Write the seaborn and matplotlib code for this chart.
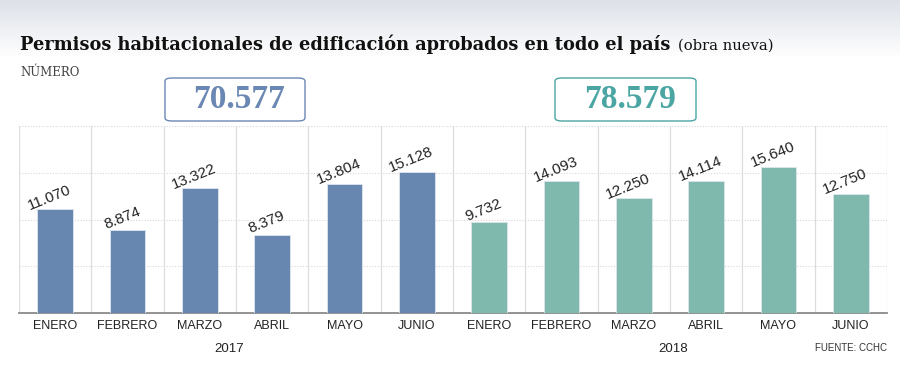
import matplotlib
matplotlib.use("Agg")
import matplotlib.pyplot as plt
import seaborn as sns
import numpy as np
import pandas as pd
from matplotlib.patches import FancyBboxPatch

# data
months = ["ENERO", "FEBRERO", "MARZO", "ABRIL", "MAYO", "JUNIO"]
years = ["2017", "2018"]
values_2017 = [11070, 8874, 13322, 8379, 13804, 15128]
values_2018 = [9732, 14093, 12250, 14114, 15640, 12750]
totals = ["70.577", "78.579"]

blue = "#6787b0"
green = "#7fb8ad"
total_colors = ["#6a88b3", "#4aa5a3"]
sans = ["Liberation Sans", "DejaVu Sans"]

df = pd.DataFrame({
    "slot": [f"{y}-{m}" for y in years for m in months],
    "mes": months * 2,
    "anio": [years[0]] * 6 + [years[1]] * 6,
    "valor": values_2017 + values_2018,
})

sns.set_theme(style="white")
plt.rcParams["font.family"] = ["DejaVu Sans"]

fig = plt.figure(figsize=(9, 3.86), dpi=100)

# grey gradient band behind the title
bg = fig.add_axes([0, 1 - 58 / 386, 1, 58 / 386], zorder=-5)
grad = np.linspace(0, 1, 100).reshape(-1, 1)
bg.imshow(grad, aspect="auto", cmap=matplotlib.colors.LinearSegmentedColormap.from_list(
    "g", ["#dde1e8", "#ffffff"]), extent=[0, 1, 0, 1])
bg.axis("off")

ax = fig.add_axes([19 / 900, 1 - 313 / 386, 868 / 900, 187 / 386])
sns.barplot(data=df, x="slot", y="valor", hue="anio", palette=[blue, green],
            dodge=False, width=0.49, legend=False, ax=ax, saturation=1,
            edgecolor="#dfe6ee", linewidth=0.6, zorder=3)

ax.set_xlim(-0.5, 11.5)
ax.set_ylim(0, 20000)
ax.set_yticks([5000, 10000, 15000, 20000])
ax.set_yticklabels([])
ax.tick_params(axis="y", length=0)
ax.grid(axis="y", color="#d8d8d8", linestyle=(0, (1, 1.5)), linewidth=0.8, zorder=0)
for xv in np.arange(-0.5, 12, 1):
    ax.axvline(xv, color="#dddddd", linewidth=0.9, zorder=0)
for s in ["top", "left", "right"]:
    ax.spines[s].set_visible(False)
ax.spines["bottom"].set_color("#8a8a8a")
ax.spines["bottom"].set_linewidth(1.3)

ax.set_xticks(range(12))
ax.set_xticklabels(df["mes"], fontsize=9, color="#222222", family=sans)
ax.tick_params(axis="x", length=0, pad=5)
ax.set_xlabel("")
ax.set_ylabel("")

# rotated value labels
for i, v in enumerate(df["valor"]):
    ax.annotate(f"{v:,}".replace(",", "."), xy=(i, v), xytext=(-2, 4),
                textcoords="offset points", rotation=22, rotation_mode="anchor",
                ha="center", va="bottom", fontsize=11, color="#222222",
                family=sans)

# year labels and source
ax.text(2.4, -0.19, years[0], transform=ax.get_xaxis_transform(), ha="center",
        va="center", fontsize=9.5, color="#222222", family=sans)
ax.text(8.55, -0.19, years[1], transform=ax.get_xaxis_transform(), ha="center",
        va="center", fontsize=9.5, color="#222222", family=sans)
fig.text(887 / 900, 1 - 348 / 386, "FUENTE: CCHC", ha="right", va="center",
         fontsize=7, color="#333333", family=sans)

# title
fig.text(20 / 900, 1 - 50 / 386,
         "Permisos habitacionales de edificación aprobados en todo el país",
         ha="left", va="baseline", fontsize=12.8, fontweight="bold",
         family=["DejaVu Serif"], color="#111111")
fig.text(678 / 900, 1 - 50 / 386, "(obra nueva)", ha="left", va="baseline",
         fontsize=10.6, family=["DejaVu Serif"], color="#111111")
fig.text(20 / 900, 1 - 73 / 386, "NÚMERO", ha="left", va="center", fontsize=8.5,
         family=["DejaVu Serif"], color="#444444")

# total boxes
for (x0, x1), txt, col in zip([(165, 305), (555, 696)], totals, total_colors):
    box = FancyBboxPatch((x0 / 900, 1 - 121 / 386), (x1 - x0) / 900, 43 / 386,
                         boxstyle="round,pad=0,rounding_size=0.008",
                         transform=fig.transFigure, facecolor="white",
                         edgecolor=col, linewidth=1.0, zorder=10)
    fig.patches.append(box)
    fig.text((x0 + x1) / 2 / 900 + 0.005, 1 - 100 / 386, txt, ha="center", va="center",
             fontsize=24, fontweight="bold", family=["Liberation Serif", "DejaVu Serif"],
             color=col, zorder=11)

fig.savefig("out.png", dpi=100)
